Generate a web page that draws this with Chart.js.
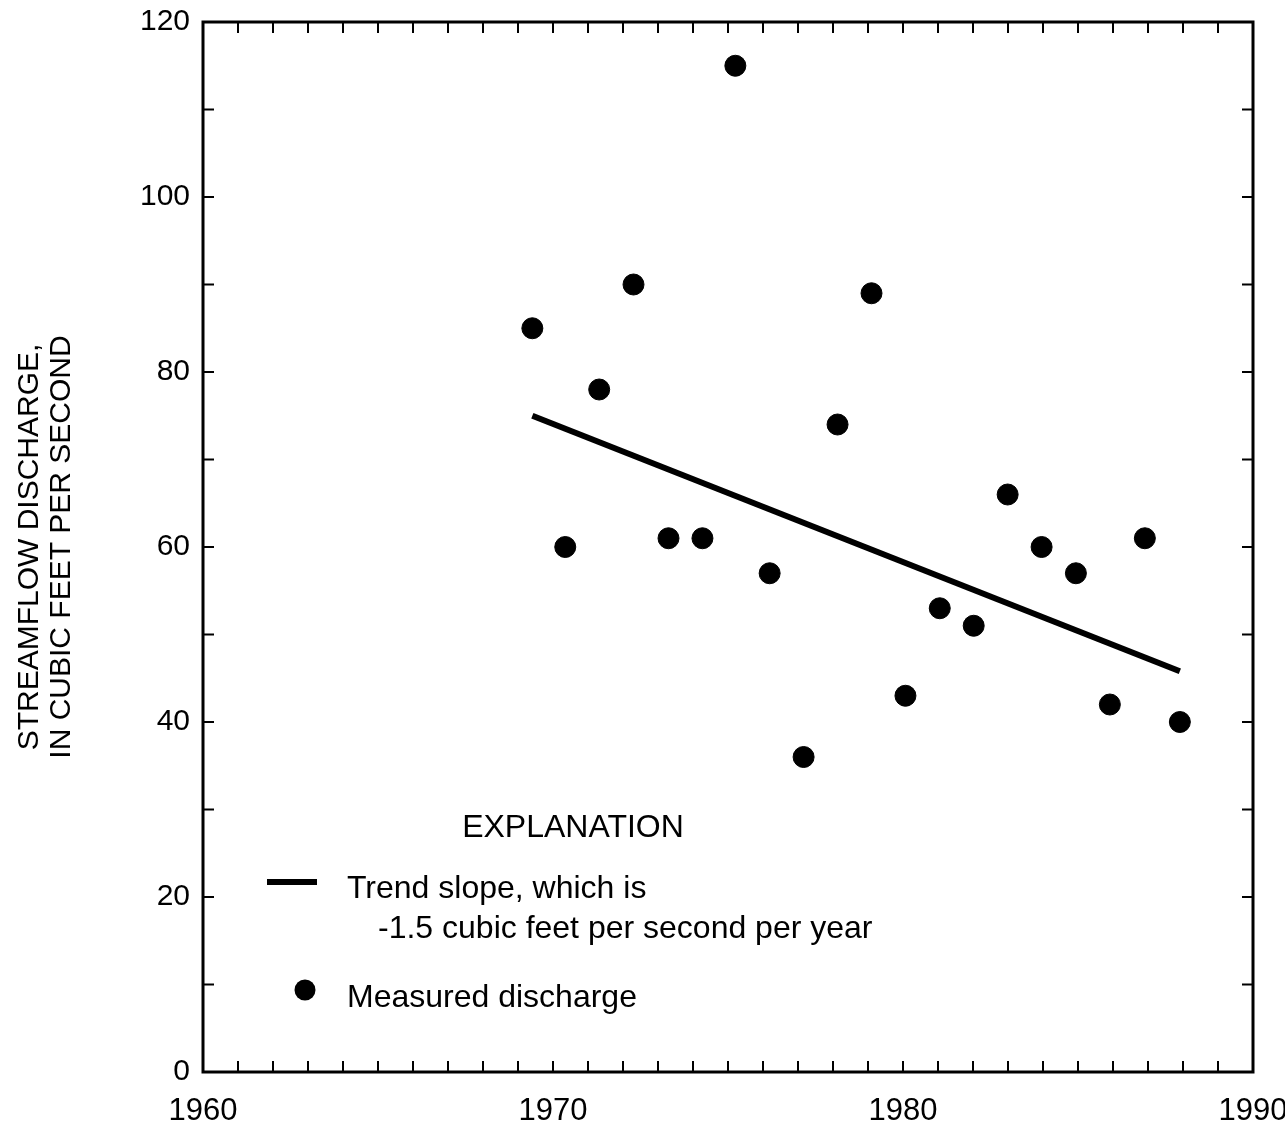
<!DOCTYPE html>
<html lang="en">
<head>
    <meta charset="UTF-8">
    <title>Streamflow discharge trend</title>
    <script src="https://cdn.jsdelivr.net/npm/chart.js"></script>
    <style>
        html, body { margin: 0; padding: 0; background: #fff; }
        #wrap { width: 1285px; height: 1124px; }
    </style>
</head>
<body>
    <div id="wrap"><canvas id="flowChart" width="1285" height="1124"></canvas></div>

    <script>
        // Datos
        const years = [1969.41, 1970.35, 1971.32, 1972.30, 1973.30, 1974.27, 1975.21, 1976.19, 1977.16, 1978.13,
                       1979.10, 1980.07, 1981.05, 1982.02, 1982.99, 1983.96, 1984.94, 1985.91, 1986.91, 1987.91];
        const discharge = [85, 60, 78, 90, 61, 61, 115, 57, 36, 74,
                           89, 43, 53, 51, 66, 60, 57, 42, 61, 40];
        const trendYears = [1969.41, 1987.91];
        const trendValues = [75, 45.8];
        const xLabels = [1960, 1970, 1980, 1990];
        const yLabels = [0, 20, 40, 60, 80, 100, 120];

        const FONT = "'Liberation Sans', Arial, Helvetica, sans-serif";

        // Marco y marcas hacia adentro en los cuatro lados
        const framePlugin = {
            id: 'frame',
            afterDraw(chart) {
                const ctx = chart.ctx;
                const a = chart.chartArea;
                const xs = chart.scales.x, ys = chart.scales.y;
                const len = 11;
                ctx.save();
                ctx.strokeStyle = '#000';
                ctx.lineWidth = 2;
                ctx.beginPath();
                for (let v = 1961; v < 1990; v++) {
                    const px = xs.getPixelForValue(v);
                    ctx.moveTo(px, a.bottom); ctx.lineTo(px, a.bottom - len);
                    ctx.moveTo(px, a.top); ctx.lineTo(px, a.top + len);
                }
                for (let v = 10; v < 120; v += 10) {
                    const py = ys.getPixelForValue(v);
                    ctx.moveTo(a.left, py); ctx.lineTo(a.left + len, py);
                    ctx.moveTo(a.right, py); ctx.lineTo(a.right - len, py);
                }
                ctx.stroke();
                ctx.lineWidth = 3;
                ctx.strokeRect(a.left, a.top, a.right - a.left, a.bottom - a.top);
                ctx.restore();
            }
        };

        // Cuadro de explicacion
        const explanationPlugin = {
            id: 'explanation',
            afterDraw(chart) {
                const ctx = chart.ctx;
                ctx.save();
                ctx.fillStyle = '#000';
                ctx.strokeStyle = '#000';
                ctx.font = '32px ' + FONT;
                ctx.textBaseline = 'middle';
                ctx.textAlign = 'center';
                ctx.fillText('EXPLANATION', 573, 828);
                ctx.textAlign = 'left';
                ctx.lineWidth = 6;
                ctx.beginPath();
                ctx.moveTo(267, 882); ctx.lineTo(317, 882);
                ctx.stroke();
                ctx.fillText('Trend slope, which is', 347, 889);
                ctx.fillText('-1.5 cubic feet per second per year', 378, 929);
                ctx.beginPath();
                ctx.arc(305, 990, 10.5, 0, Math.PI * 2);
                ctx.fill();
                ctx.fillText('Measured discharge', 347, 998);
                ctx.restore();
            }
        };

        const ctx = document.getElementById('flowChart').getContext('2d');
        new Chart(ctx, {
            type: 'scatter',
            data: {
                datasets: [
                    {
                        label: 'Measured discharge',
                        data: years.map((y, i) => ({ x: y, y: discharge[i] })),
                        backgroundColor: '#000',
                        borderColor: '#000',
                        pointRadius: 10.5,
                        pointHoverRadius: 10.5
                    },
                    {
                        label: 'Trend slope',
                        data: trendYears.map((y, i) => ({ x: y, y: trendValues[i] })),
                        showLine: true,
                        borderColor: '#000',
                        borderWidth: 6,
                        pointRadius: 0,
                        borderCapStyle: 'butt'
                    }
                ]
            },
            options: {
                responsive: false,
                animation: false,
                layout: { padding: { top: 22, right: 32, left: 0, bottom: 0 } },
                plugins: {
                    legend: { display: false },
                    tooltip: { enabled: false }
                },
                scales: {
                    x: {
                        type: 'linear',
                        min: 1960,
                        max: 1990,
                        afterFit: s => { s.height = 52; s.paddingLeft = 0; s.paddingRight = 0; },
                        grid: { display: false, drawTicks: false },
                        border: { display: false },
                        ticks: {
                            stepSize: 10,
                            autoSkip: false,
                            maxRotation: 0,
                            padding: 21,
                            color: '#000',
                            font: { family: FONT, size: 31 },
                            callback: v => xLabels.includes(v) ? String(v) : ''
                        }
                    },
                    y: {
                        min: 0,
                        max: 120,
                        afterFit: s => { s.width = 203; s.paddingTop = 0; s.paddingBottom = 0; },
                        grid: { display: false, drawTicks: false },
                        border: { display: false },
                        ticks: {
                            stepSize: 20,
                            padding: 13,
                            color: '#000',
                            font: { family: FONT, size: 30 },
                            callback: v => yLabels.includes(v) ? String(v) : ''
                        },
                        title: {
                            display: true,
                            text: ['STREAMFLOW DISCHARGE,', 'IN CUBIC FEET PER SECOND'],
                            color: '#000',
                            padding: { top: 14, bottom: 0 },
                            font: { family: FONT, size: 30, lineHeight: 1.07 }
                        }
                    }
                }
            },
            plugins: [framePlugin, explanationPlugin]
        });
    </script>
</body>
</html>
